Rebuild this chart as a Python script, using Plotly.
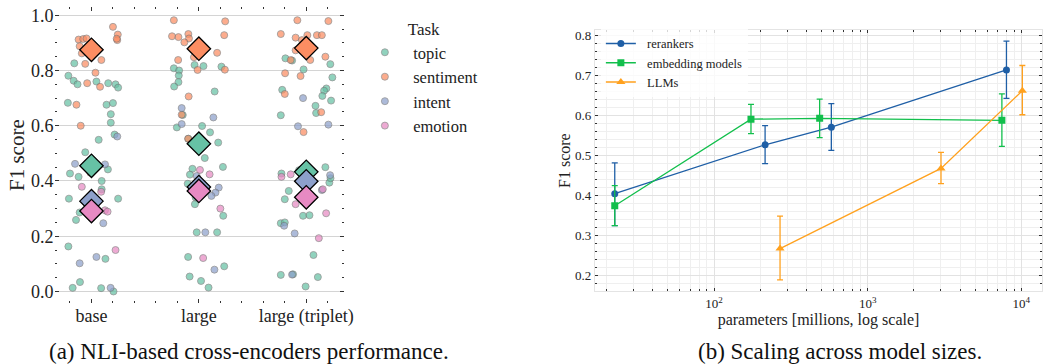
import plotly.graph_objects as go

# ---------------- data: panel (a) ----------------
categories = ["base", "large", "large (triplet)"]
tasks = ["topic", "sentiment", "intent", "emotion"]
task_colors = ["#66c2a5", "#fc8d62", "#8da0cb", "#e78ac3"]

# (jitter offset, F1) pairs
sentiment_base = [(0.20, 0.958), (0.245, 0.930), (0.24, 0.910), (0.235, 0.915), (-0.12, 0.912), (-0.077, 0.914),
                  (-0.046, 0.916), (-0.11, 0.888), (-0.09, 0.862), (-0.058, 0.824), (0.092, 0.838), (0.037, 0.792),
                  (-0.04, 0.754), (0.08, 0.741), (-0.14, 0.676), (-0.10, 0.600), (-0.01, 0.43)]
topic_base = [(-0.16, 0.826), (-0.215, 0.781), (-0.166, 0.763), (-0.13, 0.750), (0.046, 0.760), (0.156, 0.754),
              (0.224, 0.750), (0.248, 0.738), (-0.22, 0.683), (0.14, 0.676), (0.20, 0.682), (0.18, 0.642),
              (0.18, 0.611), (0.215, 0.568), (0.067, 0.549), (-0.058, 0.504), (-0.20, 0.427), (-0.12, 0.415),
              (0.153, 0.442), (0.095, 0.400), (0.095, 0.370), (-0.21, 0.336), (0.248, 0.336), (-0.11, 0.286),
              (-0.144, 0.259), (-0.215, 0.163), (0.13, 0.118), (-0.107, 0.034), (-0.175, 0.013), (0.09, 0.012),
              (0.205, 0.0)]
intent_base = [(-0.153, 0.462), (0.126, 0.46), (0.11, 0.247), (0.046, 0.125), (-0.11, 0.102), (0.178, 0.013),
               (0.24, 0.561)]
emotion_base = [(-0.09, 0.379), (0.09, 0.361), (0.126, 0.294), (0.15, 0.289), (0.224, 0.150)]

sentiment_large = [(-0.233, 0.982), (0.245, 0.978), (-0.25, 0.924), (-0.19, 0.921), (-0.098, 0.932),
                   (-0.092, 0.916), (-0.135, 0.902), (0.236, 0.928), (-0.046, 0.848), (0.17, 0.864),
                   (-0.193, 0.838), (-0.012, 0.802), (0.242, 0.803), (-0.095, 0.706), (-0.16, 0.640),
                   (-0.10, 0.553), (-0.05, 0.874)]
topic_large = [(-0.233, 0.808), (-0.184, 0.800), (-0.187, 0.782), (-0.19, 0.758), (-0.23, 0.742), (-0.04, 0.820),
               (0.043, 0.816), (0.21, 0.814), (0.147, 0.724), (-0.205, 0.594), (-0.15, 0.639), (0.03, 0.599),
               (0.104, 0.576), (-0.098, 0.553), (0.18, 0.539), (0.055, 0.483), (0.224, 0.451), (-0.06, 0.444),
               (-0.083, 0.423), (-0.104, 0.390), (-0.03, 0.340), (-0.037, 0.316), (0.227, 0.274), (-0.02, 0.214),
               (0.17, 0.214), (-0.1, 0.125), (0.236, 0.091), (-0.086, 0.054), (0.02, 0.038), (0.09, 0.014)]
intent_large = [(-0.16, 0.664), (-0.16, 0.606), (0.135, 0.630), (-0.02, 0.418), (0.185, 0.376), (0.155, 0.358),
                (0.117, 0.346), (0.06, 0.214), (0.145, 0.079)]
emotion_large = [(0.01, 0.44), (0.10, 0.424), (0.20, 0.300), (0.04, 0.121)]

sentiment_triplet = [(-0.083, 0.982), (0.206, 0.979), (-0.237, 0.932), (-0.099, 0.919), (0.01, 0.928),
                     (0.099, 0.928), (0.145, 0.928), (-0.04, 0.91), (-0.099, 0.873), (0.037, 0.838),
                     (0.178, 0.850), (-0.145, 0.838), (-0.197, 0.790), (-0.053, 0.780), (-0.2, 0.715),
                     (0.139, 0.649), (-0.025, 0.577)]
topic_triplet = [(-0.194, 0.844), (-0.132, 0.836), (-0.025, 0.804), (0.224, 0.823), (0.243, 0.775),
                 (-0.224, 0.730), (0.187, 0.735), (0.166, 0.727), (0.15, 0.708), (0.231, 0.691), (0.086, 0.672),
                 (0.092, 0.646), (-0.237, 0.638), (-0.231, 0.427), (-0.067, 0.439), (0.178, 0.45), (0.215, 0.394),
                 (0.226, 0.41), (-0.163, 0.364), (-0.2, 0.334), (-0.03, 0.274), (0.03, 0.276), (-0.237, 0.247),
                 (-0.2, 0.25), (0.067, 0.132), (-0.237, 0.060), (0.108, 0.052), (-0.006, 0.018), (-0.123, 0.062)]
intent_triplet = [(-0.03, 0.700), (0.206, 0.604), (-0.077, 0.598), (0.222, 0.421), (0.145, 0.367),
                  (-0.206, 0.238), (-0.108, 0.21), (-0.132, 0.061)]
emotion_triplet = [(-0.231, 0.415), (-0.145, 0.424), (0.154, 0.370), (-0.099, 0.316), (0.185, 0.283),
                   (0.117, 0.193)]

# mean F1 per task (diamonds), one value per category
topic_mean = [0.455, 0.535, 0.433]
sentiment_mean = [0.875, 0.879, 0.881]
intent_mean = [0.327, 0.378, 0.399]
emotion_mean = [0.291, 0.364, 0.341]

# ---------------- data: panel (b) ----------------
rerank_x = [22.6, 215, 580, 8000]
rerank_y = [0.405, 0.527, 0.571, 0.714]
rerank_hi = [0.482, 0.575, 0.630, 0.786]
rerank_lo = [0.325, 0.480, 0.513, 0.643]

embed_x = [22.6, 174, 487, 7470]
embed_y = [0.375, 0.591, 0.593, 0.588]
embed_hi = [0.425, 0.628, 0.641, 0.654]
embed_lo = [0.325, 0.555, 0.545, 0.523]

llm_x = [269, 3000, 10150]
llm_y = [0.268, 0.468, 0.662]
llm_hi = [0.349, 0.508, 0.725]
llm_lo = [0.190, 0.430, 0.602]

FONT = "Liberation Serif"

fig = go.Figure()

pts = {
    "topic": [topic_base, topic_large, topic_triplet],
    "sentiment": [sentiment_base, sentiment_large, sentiment_triplet],
    "intent": [intent_base, intent_large, intent_triplet],
    "emotion": [emotion_base, emotion_large, emotion_triplet],
}
means = {"topic": topic_mean, "sentiment": sentiment_mean, "intent": intent_mean, "emotion": emotion_mean}

for task, col in zip(tasks, task_colors):
    xs, ys = [], []
    for ci, lst in enumerate(pts[task]):
        for dx, yv in lst:
            xs.append(ci + dx)
            ys.append(yv)
    fig.add_trace(go.Scatter(
        x=xs, y=ys, mode="markers", name="  " + task, legend="legend",
        marker=dict(size=7, color=col, opacity=0.72, line=dict(color="#707070", width=0.8)),
        xaxis="x", yaxis="y"))

for task, col in zip(["sentiment", "topic", "intent", "emotion"],
                     [task_colors[1], task_colors[0], task_colors[2], task_colors[3]]):
    fig.add_trace(go.Scatter(
        x=list(range(len(categories))), y=means[task], mode="markers", showlegend=False,
        marker=dict(symbol="diamond", size=18, color=col, line=dict(color="black", width=1.3)),
        xaxis="x", yaxis="y"))

series = [
    ("rerankers", rerank_x, rerank_y, rerank_hi, rerank_lo, "#1f5fa6", "circle", 7),
    ("embedding models", embed_x, embed_y, embed_hi, embed_lo, "#12bf4c", "square", 7),
    ("LLMs", llm_x, llm_y, llm_hi, llm_lo, "#ffa11e", "triangle-up", 8),
]
for name, xs, ys, hi, lo, col, sym, sz in series:
    fig.add_trace(go.Scatter(
        x=xs, y=ys, mode="lines+markers", name="  " + name, legend="legend2",
        line=dict(color=col, width=1.3),
        marker=dict(symbol=sym, size=sz, color=col),
        error_y=dict(type="data", symmetric=False,
                     array=[h - v for h, v in zip(hi, ys)],
                     arrayminus=[v - l for v, l in zip(ys, lo)],
                     color=col, thickness=1.3, width=3),
        xaxis="x2", yaxis="y2"))

W, H = 1062, 364
fig.update_layout(
    width=W, height=H, margin=dict(l=0, r=0, t=0, b=0),
    paper_bgcolor="white", plot_bgcolor="white",
    font=dict(family=FONT, color="#222"),
    xaxis=dict(domain=[55 / W, 347 / W], range=[-0.344, 2.352],
               tickvals=[0, 1, 2], ticktext=categories, tickfont=dict(size=18),
               ticks="inside", ticklen=4, tickcolor="#333", mirror="allticks",
               showgrid=False, zeroline=False, showline=False,
               minor=dict(dtick=0.2, tick0=0, ticks="inside", ticklen=2, tickcolor="#333")),
    yaxis=dict(domain=[(H - 303) / H, (H - 5) / H], range=[-0.043, 1.03],
               tickvals=[0, 0.2, 0.4, 0.6, 0.8, 1.0], tickformat=".1f", tickfont=dict(size=18),
               ticks="inside", ticklen=4, tickcolor="#333", mirror="allticks",
               showgrid=True, gridcolor="#d4d4d4", gridwidth=1, zeroline=False, showline=False,
               title=dict(text="F1 score", font=dict(size=21), standoff=0),
               minor=dict(dtick=0.05, tick0=0, ticks="inside", ticklen=2, tickcolor="#333")),
    xaxis2=dict(domain=[600 / W, 1051 / W], type="log", range=[1.225, 4.135],
                tickvals=[100, 1000, 10000], ticktext=["10<sup>2</sup>", "10<sup>3</sup>", "10<sup>4</sup>"],
                tickfont=dict(size=13), ticks="inside", ticklen=3, tickcolor="#333", mirror="allticks",
                showline=True, linecolor="#e4e4e4", zeroline=False,
                showgrid=True, gridcolor="#e2e2e2",
                title=dict(text="parameters [millions, log scale]", font=dict(size=16), standoff=3),
                minor=dict(dtick="D1", ticks="inside", ticklen=2, tickcolor="#333", showgrid=True,
                           gridcolor="#efefef"),
                anchor="y2"),
    yaxis2=dict(domain=[(H - 291) / H, (H - 28) / H], range=[0.161, 0.814],
                tickvals=[0.2, 0.3, 0.4, 0.5, 0.6, 0.7, 0.8], tickformat=".1f",
                tickfont=dict(size=13), ticks="inside", ticklen=3, tickcolor="#333", mirror="allticks",
                showline=True, linecolor="#e4e4e4", zeroline=False,
                showgrid=True, gridcolor="#e2e2e2",
                title=dict(text="F1 score", font=dict(size=16), standoff=0),
                minor=dict(dtick=0.02, tick0=0, ticks="inside", ticklen=2, tickcolor="#333", showgrid=True,
                           gridcolor="#efefef"),
                anchor="x2"),
    legend=dict(x=368 / W, y=(H - 11) / H, xanchor="left", yanchor="top",
                font=dict(size=16.5), bgcolor="rgba(0,0,0,0)",
                title=dict(text="Task", side="top center", font=dict(size=17)),
                tracegroupgap=0, itemsizing="trace"),
    legend2=dict(x=606 / W, y=(H - 27) / H, xanchor="left", yanchor="top",
                 font=dict(size=12.5), bgcolor="rgba(255,255,255,0.8)", tracegroupgap=0),
    showlegend=True,
    annotations=[
        dict(text="(a) NLI-based cross-encoders performance.", x=47 / W, y=(H - 351) / H,
             xref="paper", yref="paper", showarrow=False, font=dict(size=23, family=FONT, color="#111"),
             xanchor="left", yanchor="middle"),
        dict(text="(b) Scaling across model sizes.", x=847 / W, y=(H - 351) / H,
             xref="paper", yref="paper", showarrow=False, font=dict(size=23, family=FONT, color="#111"),
             xanchor="center", yanchor="middle"),
    ],
)

fig.write_html("out.html")
